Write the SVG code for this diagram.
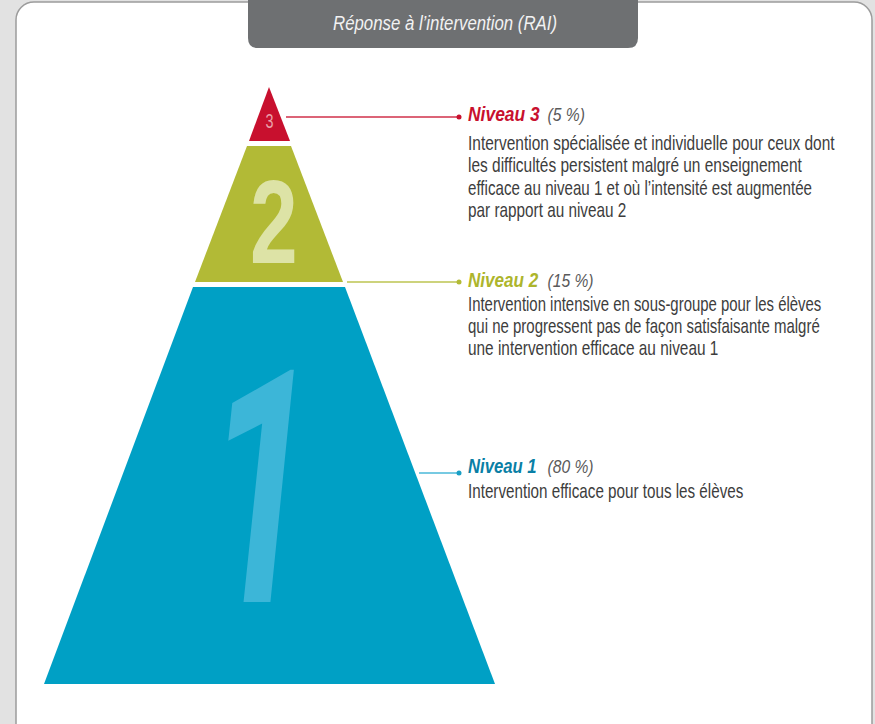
<svg xmlns="http://www.w3.org/2000/svg" width="875" height="724" viewBox="0 0 875 724">
<style>
.body{font-family:"Liberation Sans",Arial,sans-serif;font-size:20px;fill:#3d3d3d}
.head{font-family:"Liberation Sans",Arial,sans-serif;font-size:21px;font-weight:bold;font-style:italic}
.pct{font-family:"Liberation Sans",Arial,sans-serif;font-size:19px;font-style:italic;fill:#5a5a5a}
.num{font-family:"Liberation Sans",Arial,sans-serif;font-weight:bold}
</style>
<rect x="0" y="0" width="875" height="724" fill="#e2e2e2"/>
<rect x="16" y="2" width="856" height="740" rx="18" fill="#ffffff" stroke="#9c9c9c" stroke-width="1.5"/>
<g id="title">
<path d="M248 -2 H638 V38 Q638 48 628 48 H258 Q248 48 248 38 Z" fill="#6e7072"/>
<text x="445" y="30" text-anchor="middle" font-family="Liberation Sans, Arial, sans-serif" font-size="20" font-style="italic" fill="#f2f2f2" textLength="224" lengthAdjust="spacingAndGlyphs">Réponse à l’intervention (RAI)</text>
</g>
<g id="niveau1-shape">
<polygon points="193,287 345,287 495,684 44,684" fill="#00a0c5"/>
<text x="0" y="0" font-family="Roboto, sans-serif" font-weight="bold" font-style="italic" font-size="326" fill="#3cb6d8" transform="translate(206,602) scale(0.6,1)">1</text>
</g>
<g id="niveau2-shape">
<polygon points="247,146 291,146 343,282 195,282" fill="#b2ba36"/>
<text class="num" x="0" y="0" font-size="119" fill="#dde3a6" transform="translate(250,263) scale(0.72,1)">2</text>
</g>
<g id="niveau3-shape">
<polygon points="269,87 290,141 249,141" fill="#c8102e"/>
<text x="0" y="0" font-family="Liberation Sans, Arial, sans-serif" font-size="20" fill="#eaa0aa" transform="translate(265.5,128) scale(0.72,1)">3</text>
</g>
<g id="connectors">
<line x1="286" y1="117" x2="459" y2="117" stroke="#d0304a" stroke-width="1.5"/>
<circle cx="459" cy="117" r="2.5" fill="#c8102e"/>
<line x1="347" y1="282" x2="459" y2="282" stroke="#bcc450" stroke-width="1.5"/>
<circle cx="459" cy="282" r="2.5" fill="#b2ba36"/>
<line x1="419" y1="473" x2="459" y2="473" stroke="#4ab9d8" stroke-width="1.5"/>
<circle cx="459" cy="473" r="2.5" fill="#1a9fc5"/>
</g>
<g id="niveau3-text" transform="translate(468,0) scale(0.78,1)">
<text class="head" x="0" y="121" fill="#c8102e" textLength="92" lengthAdjust="spacingAndGlyphs">Niveau 3</text>
<text class="pct" x="102" y="121" textLength="48" lengthAdjust="spacingAndGlyphs">(5 %)</text>
<text class="body" x="0" y="150" textLength="470" lengthAdjust="spacingAndGlyphs">Intervention spécialisée et individuelle pour ceux dont</text>
<text class="body" x="0" y="172.5" textLength="428" lengthAdjust="spacingAndGlyphs">les difficultés persistent malgré un enseignement</text>
<text class="body" x="0" y="195" textLength="441" lengthAdjust="spacingAndGlyphs">efficace au niveau 1 et où l’intensité est augmentée</text>
<text class="body" x="0" y="217.5" textLength="203" lengthAdjust="spacingAndGlyphs">par rapport au niveau 2</text>
</g>
<g id="niveau2-text" transform="translate(468,0) scale(0.78,1)">
<text class="head" x="0" y="287" fill="#adb52c" textLength="90" lengthAdjust="spacingAndGlyphs">Niveau 2</text>
<text class="pct" x="102" y="287" textLength="59" lengthAdjust="spacingAndGlyphs">(15 %)</text>
<text class="body" x="0" y="311" textLength="453" lengthAdjust="spacingAndGlyphs">Intervention intensive en sous-groupe pour les élèves</text>
<text class="body" x="0" y="333" textLength="451" lengthAdjust="spacingAndGlyphs">qui ne progressent pas de façon satisfaisante malgré</text>
<text class="body" x="0" y="355" textLength="321" lengthAdjust="spacingAndGlyphs">une intervention efficace au niveau 1</text>
</g>
<g id="niveau1-text" transform="translate(468,0) scale(0.78,1)">
<text class="head" x="0" y="473" fill="#0a7fa6" textLength="88" lengthAdjust="spacingAndGlyphs">Niveau 1</text>
<text class="pct" x="102" y="473" textLength="59" lengthAdjust="spacingAndGlyphs">(80 %)</text>
<text class="body" x="0" y="498" textLength="353" lengthAdjust="spacingAndGlyphs">Intervention efficace pour tous les élèves</text>
</g>
</svg>
